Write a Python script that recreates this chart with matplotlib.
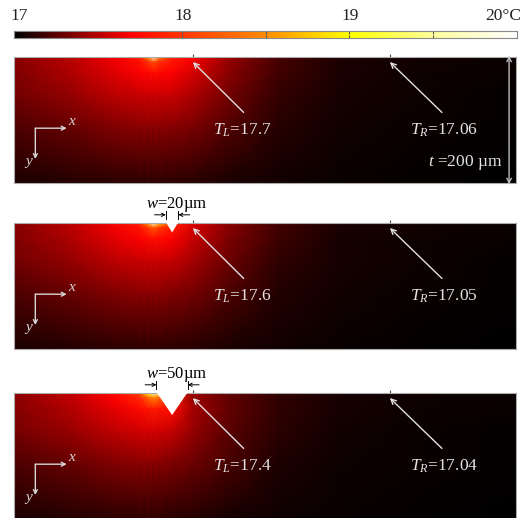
import numpy as np
import matplotlib
matplotlib.use("Agg")
import matplotlib.pyplot as plt
from matplotlib.colors import LinearSegmentedColormap
from matplotlib.patches import Polygon

plt.rcParams['font.family'] = ['Liberation Serif', 'DejaVu Serif']
plt.rcParams['mathtext.fontset'] = 'custom'
plt.rcParams['mathtext.rm'] = 'Liberation Serif'
plt.rcParams['mathtext.it'] = 'Liberation Serif:italic'

# grid nodes (um): panel is 800 x 200 um
x_nodes = [0, 90, 160, 200, 214, 222, 232, 252, 285, 340, 420, 520, 650, 800]
depth_nodes = [0, 8, 25, 60, 110, 200]

# temperature (degC) at the nodes, one row per depth
field_plain = [
    [17.37, 17.50, 17.66, 17.85, 18.50, 19.80, 18.40, 17.85, 17.70, 17.43, 17.20, 17.09, 17.05, 17.03],
    [17.37, 17.50, 17.65, 17.78, 17.98, 18.15, 17.95, 17.80, 17.66, 17.41, 17.19, 17.08, 17.05, 17.03],
    [17.35, 17.47, 17.60, 17.68, 17.72, 17.74, 17.72, 17.68, 17.58, 17.38, 17.18, 17.08, 17.04, 17.03],
    [17.31, 17.41, 17.51, 17.55, 17.56, 17.56, 17.56, 17.54, 17.47, 17.32, 17.15, 17.07, 17.04, 17.02],
    [17.22, 17.29, 17.36, 17.38, 17.38, 17.38, 17.38, 17.37, 17.33, 17.23, 17.11, 17.05, 17.03, 17.02],
    [17.08, 17.10, 17.12, 17.12, 17.12, 17.12, 17.12, 17.12, 17.11, 17.08, 17.05, 17.03, 17.02, 17.01],
]
field_w20 = [
    [17.37, 17.50, 17.67, 17.88, 18.60, 19.60, 18.70, 17.90, 17.60, 17.38, 17.18, 17.08, 17.05, 17.03],
    [17.37, 17.50, 17.66, 17.80, 18.00, 18.20, 18.00, 17.85, 17.58, 17.37, 17.18, 17.08, 17.05, 17.03],
    [17.35, 17.47, 17.61, 17.69, 17.74, 17.76, 17.74, 17.68, 17.53, 17.35, 17.17, 17.07, 17.04, 17.03],
    [17.31, 17.41, 17.51, 17.55, 17.56, 17.56, 17.55, 17.53, 17.45, 17.30, 17.14, 17.06, 17.04, 17.02],
    [17.22, 17.29, 17.36, 17.38, 17.38, 17.38, 17.38, 17.36, 17.32, 17.22, 17.10, 17.05, 17.03, 17.02],
    [17.08, 17.10, 17.12, 17.12, 17.12, 17.12, 17.12, 17.12, 17.11, 17.08, 17.05, 17.03, 17.02, 17.01],
]
field_w50 = [
    [17.38, 17.52, 17.74, 18.05, 19.00, 19.50, 19.30, 18.00, 17.42, 17.28, 17.14, 17.07, 17.04, 17.03],
    [17.38, 17.52, 17.70, 17.92, 18.25, 18.45, 18.25, 17.90, 17.42, 17.28, 17.14, 17.07, 17.04, 17.03],
    [17.36, 17.49, 17.63, 17.74, 17.82, 17.85, 17.82, 17.75, 17.45, 17.27, 17.13, 17.06, 17.04, 17.03],
    [17.32, 17.42, 17.52, 17.57, 17.58, 17.58, 17.57, 17.53, 17.41, 17.25, 17.12, 17.05, 17.03, 17.02],
    [17.22, 17.29, 17.36, 17.38, 17.38, 17.38, 17.37, 17.35, 17.30, 17.20, 17.09, 17.04, 17.03, 17.02],
    [17.08, 17.10, 17.12, 17.12, 17.12, 17.12, 17.12, 17.11, 17.10, 17.07, 17.04, 17.03, 17.02, 17.01],
]

notch_widths = [0, 20, 50]   # um
notch_depths = [0, 15, 35]   # um
notch_center = 252
TL_values = ['17.7', '17.6', '17.4']
TR_values = ['17.06', '17.05', '17.04']
probe_x = [285, 599]

cmap = LinearSegmentedColormap.from_list('heat', [
    (0.0, (0, 0, 0)), (0.23, (1, 0, 0)), (0.5, (1, 0.55, 0)),
    (0.67, (1, 1, 0)), (0.83, (1, 1, 0.6)), (1.0, (1, 1, 1))])

fig = plt.figure(figsize=(5.24, 5.18), dpi=100)
W, H = 524.0, 518.0

# colour bar
cax = fig.add_axes([14 / W, 1 - 38 / H, 503 / W, 7 / H])
grad = np.linspace(17, 20, 400).reshape(1, -1)
cax.imshow(grad, aspect='auto', cmap=cmap, vmin=17, vmax=20, extent=[17, 20, 0, 1])
cax.set_xticks([18, 18.5, 19, 19.5])
cax.set_yticks([])
cax.tick_params(axis='x', direction='in', length=2, color='#555555',
                labelbottom=False, top=True, bottom=True)
for s in cax.spines.values():
    s.set_color('#888888')
    s.set_linewidth(0.8)
for lab, xp, ha in [('17', 10, 'left'), ('18', 183, 'center'), ('19', 350, 'center'), ('20°C', 521, 'right')]:
    fig.text(xp / W, 1 - 16 / H, lab, ha=ha, va='center', fontsize=12.5, color='#222222')

panel_tops = [57, 223, 393]
fields = [field_plain, field_w20, field_w50]
grey = '#e2e2e2'
X, Y = np.meshgrid(x_nodes, depth_nodes)

for i, top in enumerate(panel_tops):
    ax = fig.add_axes([14 / W, 1 - (top + 126) / H, 502 / W, 126 / H])
    ax.pcolormesh(X, Y, np.array(fields[i]), shading='gouraud', cmap=cmap, vmin=17, vmax=20)
    ax.set_xlim(0, 800)
    ax.set_ylim(200, 0)
    ax.set_yticks([])
    ax.set_xticks(probe_x)
    ax.xaxis.set_ticks_position('top')
    ax.tick_params(axis='x', direction='out', length=2, color='#444444', labeltop=False, labelbottom=False)
    for s in ax.spines.values():
        s.set_color('#aaaaaa')
        s.set_linewidth(0.8)

    w, d = notch_widths[i], notch_depths[i]
    if w > 0:
        l, r = notch_center - w / 2, notch_center + w / 2
        ax.add_patch(Polygon([(l, -1.5), (r, -1.5), (notch_center, d)], closed=True,
                             facecolor='white', edgecolor='none', zorder=4, clip_on=False))
        ax.text((l + r) / 2 + 7, -29, '$w$=%dµm' % w, ha='center', va='center', fontsize=12,
                color='black', clip_on=False)
        for xe in (l, r):
            ax.plot([xe, xe], [-19, -7], color='black', lw=0.7, clip_on=False)
        ax.annotate('', xy=(l, -13), xytext=(l - 18, -13), annotation_clip=False,
                    arrowprops=dict(arrowstyle='->', color='black', lw=0.7, mutation_scale=6,
                                    shrinkA=0, shrinkB=0))
        ax.annotate('', xy=(r, -13), xytext=(r + 18, -13), annotation_clip=False,
                    arrowprops=dict(arrowstyle='->', color='black', lw=0.7, mutation_scale=6,
                                    shrinkA=0, shrinkB=0))

    # probe labels and arrows
    arr = dict(arrowstyle='->', color=grey, lw=1.0, mutation_scale=9, shrinkA=0, shrinkB=0)
    ax.annotate('', xy=(probe_x[0], 8), xytext=(366, 88), arrowprops=arr)
    ax.annotate('', xy=(probe_x[1], 8), xytext=(682, 88), arrowprops=arr)
    ax.text(317, 116, r'$T_L$=' + TL_values[i], color=grey, fontsize=12.5, va='center')
    ax.text(631, 116, r'$T_R$=' + TR_values[i], color=grey, fontsize=12.5, va='center')

    # coordinate icon
    axis_arr = dict(arrowstyle='->', color='#d8d8d8', lw=1.0, mutation_scale=7, shrinkA=0, shrinkB=0)
    ax.annotate('', xy=(84, 113), xytext=(34, 113), arrowprops=axis_arr)
    ax.annotate('', xy=(34, 162), xytext=(34, 113), arrowprops=axis_arr)
    ax.text(86, 102, '$x$', color='#d8d8d8', fontsize=11, va='center')
    ax.text(32, 168, '$y$', color='#d8d8d8', fontsize=11, va='center', ha='right')

    if i == 0:
        ax.annotate('', xy=(789, -2), xytext=(789, 202), annotation_clip=False,
                    arrowprops=dict(arrowstyle='<->', color='#bbbbbb', lw=1.0, mutation_scale=8,
                                    shrinkA=0, shrinkB=0))
        ax.text(778, 168, r'$t$ =200 µm', color=grey, fontsize=12.5, va='center', ha='right')

fig.savefig('out.png', dpi=100)
